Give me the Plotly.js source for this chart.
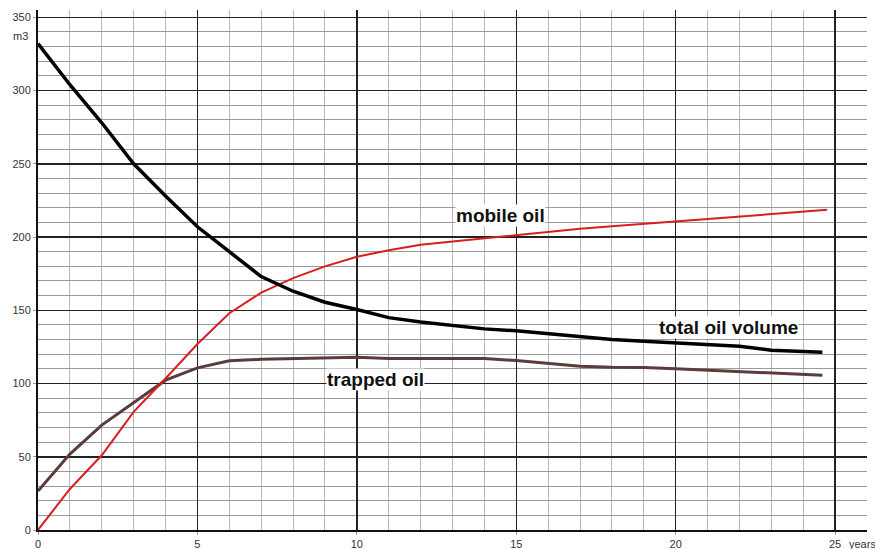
<!DOCTYPE html>
<html>
<head>
<meta charset="utf-8">
<script src="https://cdn.plot.ly/plotly-3.0.1.min.js"></script>
<style>html,body{margin:0;padding:0;background:#fff;}#chart{width:875px;height:549px;}</style>
</head>
<body>
<div id="chart"></div>
<script>
const yearsTotal = [0,1,2,3,4,5,6,7,8,9,10,11,12,13,14,15,16,17,18,19,20,21,22,23,24,24.6];
const totalOil = [332,304,278,250,228,207,190,173,163,155.5,150.5,145,142,139.5,137.3,136,134,131.6,130,128.9,127.7,127,125.5,122.7,121.6,121.4];
const yearsMobile = [0,1,2,3,4,5,6,7,8,9,10,11,12,13,14,15,16,17,18,19,20,21,22,23,24,24.75];
const mobileOil = [0,28,51,80.7,103.4,127,148,162,172,180,186.5,191,194.8,197,199.3,201.6,203.9,205.7,207.3,209,210.7,212.5,214.1,215.9,217.5,218.6];
const yearsTrapped = [0,1,2,3,4,5,6,7,8,9,10,11,12,13,14,15,16,17,18,19,20,21,22,23,24,24.6];
const trappedOil = [26.6,51.8,71.6,86.8,102.3,110.7,115.5,116.5,117,117,118,117,117,117,117,115.7,113.6,111.8,111.1,110.9,110,109.1,108.2,107.3,106.1,105.7];
const xTicks = [0,5,10,15,20,25];
const yTicks = [0,50,100,150,200,250,300,350];
const labels = ["mobile oil","total oil volume","trapped oil"];

const traces = [
  {x: yearsTrapped, y: trappedOil, mode:'lines', line:{color:'#5b3b3b', width:3}, hoverinfo:'skip'},
  {x: yearsMobile, y: mobileOil, mode:'lines', line:{color:'#d81e1e', width:2}, hoverinfo:'skip'},
  {x: yearsTotal, y: totalOil, mode:'lines', line:{color:'#000000', width:3.5}, hoverinfo:'skip'}
];

const labelFont = {family:'Liberation Sans, Arial, sans-serif', size:19, color:'#111'};
const layout = {
  width:875, height:549,
  margin:{l:38, r:8, t:10, b:19},
  paper_bgcolor:'#fff', plot_bgcolor:'#fff',
  showlegend:false,
  font:{family:'Liberation Sans, Arial, sans-serif', size:11, color:'#333'},
  xaxis:{range:[0,26], tickvals:xTicks, ticktext:xTicks.map(String),
    showgrid:true, gridcolor:'#222', gridwidth:1.5,
    minor:{dtick:1, tick0:0, showgrid:true, gridcolor:'#b8b8b8', gridwidth:1},
    showline:true, linecolor:'#111', linewidth:2, zeroline:false,
    ticks:'outside', ticklen:3, tickcolor:'#999', fixedrange:true},
  yaxis:{range:[0,355], tickvals:yTicks, ticktext:yTicks.map(String),
    showgrid:true, gridcolor:'#222', gridwidth:1.5,
    minor:{dtick:10, tick0:0, showgrid:true, gridcolor:'#9a9a9a', gridwidth:1},
    showline:true, linecolor:'#111', linewidth:2, zeroline:false,
    ticks:'outside', ticklen:3, tickcolor:'#999', fixedrange:true},
  annotations:[
    {x:14.5, y:215, xref:'x', yref:'y', text:'<b>'+labels[0]+'</b>', showarrow:false, font:labelFont, bgcolor:'#fff', borderpad:0, xanchor:'center', yanchor:'middle'},
    {x:21.67, y:138, xref:'x', yref:'y', text:'<b>'+labels[1]+'</b>', showarrow:false, font:labelFont, bgcolor:'#fff', borderpad:0, xanchor:'center', yanchor:'middle'},
    {x:10.58, y:103, xref:'x', yref:'y', text:'<b>'+labels[2]+'</b>', showarrow:false, font:labelFont, bgcolor:'#fff', borderpad:0, xanchor:'center', yanchor:'middle'},
    {x:-0.0097, y:0.95, xref:'paper', yref:'paper', text:'m3', showarrow:false, font:{size:11, color:'#333'}, xanchor:'right', yanchor:'middle'},
    {x:0.976, y:-0.027, xref:'paper', yref:'paper', text:'years', showarrow:false, font:{size:11, color:'#333'}, xanchor:'left', yanchor:'middle'}
  ]
};
Plotly.newPlot('chart', traces, layout, {displayModeBar:false, staticPlot:true});
</script>
</body>
</html>
